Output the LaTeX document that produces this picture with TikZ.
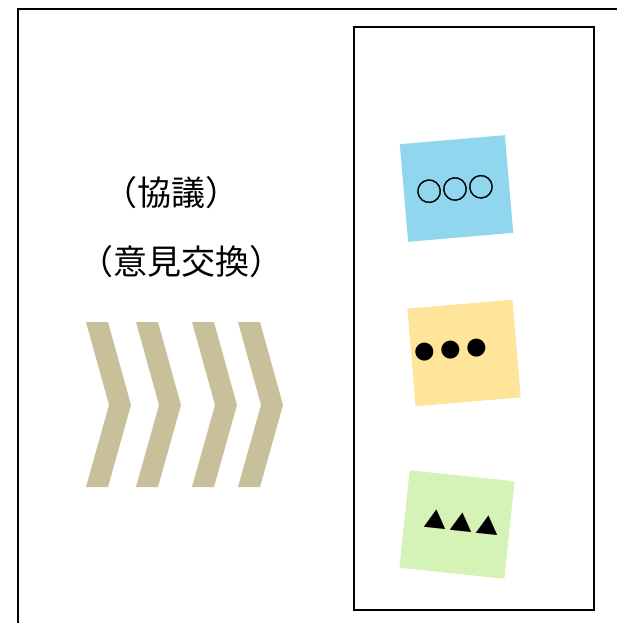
\documentclass[tikz,border=0pt]{standalone}
\usepackage{fontspec}
\newfontfamily\jp{Noto Sans CJK JP}
\newfontfamily\jpsym[FakeBold=1.6]{Noto Sans CJK JP}
\definecolor{chev}{RGB}{199,192,154}
\definecolor{noteblue}{RGB}{145,214,239}
\definecolor{noteyellow}{RGB}{255,229,153}
\definecolor{notegreen}{RGB}{213,243,183}
\tikzset{
  frame/.style={draw=black, line width=2.5pt},
  innerbox/.style={draw=black, line width=2.2pt},
  chevron/.style={fill=chev, draw=none},
  note/.style={draw=none, minimum width=105.5pt, minimum height=98pt, inner sep=0pt},
  label/.style={font=\jp\fontsize{34}{38}\selectfont, inner sep=0pt},
  symring/.style={font=\jpsym\fontsize{26}{28}\selectfont, inner sep=0pt},
  symdot/.style={font=\jp\fontsize{20}{22}\selectfont, inner sep=0pt},
  symtri/.style={font=\jp\fontsize{23}{25}\selectfont, inner sep=0pt}
}
\begin{document}
\begin{tikzpicture}[x=1pt,y=-1pt]
\useasboundingbox (0,0) rectangle (617,623);
% outer frame (runs past the right and bottom edges)
\coordinate (oBL) at (18,630);
\coordinate (oTL) at (18,9);
\coordinate (oTR) at (630,9);
\draw[frame] (oBL) -- (oTL) -- (oTR);
% inner box
\node[innerbox, minimum width=240pt, minimum height=583pt, inner sep=0pt] (box) at (474,318.5) {};
% texts
\node[label] (t1) at (171,193) {（協議）};
\node[label] (t2) at (181,262) {（意見交換）};
% chevrons
\foreach \x [count=\i] in {86,136,192,238}{
  \fill[chevron] (\x,322) -- ++(22,0) -- ++(23,83) -- ++(-23,82) -- ++(-22,0) -- ++(23,-82) -- cycle;
}
% notes
\node[note, fill=noteblue, rotate=4.9] (n1) at (456.5,188.5) {};
\node[note, fill=noteyellow, rotate=4.9] (n2) at (464,353) {};
\node[note, fill=notegreen, rotate=-6] (n3) at (457,524.5) {};
\node[symring, rotate=4.9] (s1) at (455,189) {○○○};
\node[symdot, rotate=4.9] (s2) at (451,350) {●\kern6pt●\kern6pt●};
\node[symtri, rotate=-6] (s3) at (462,522) {▲\kern3.5pt▲\kern3.5pt▲};
\end{tikzpicture}
\end{document}
